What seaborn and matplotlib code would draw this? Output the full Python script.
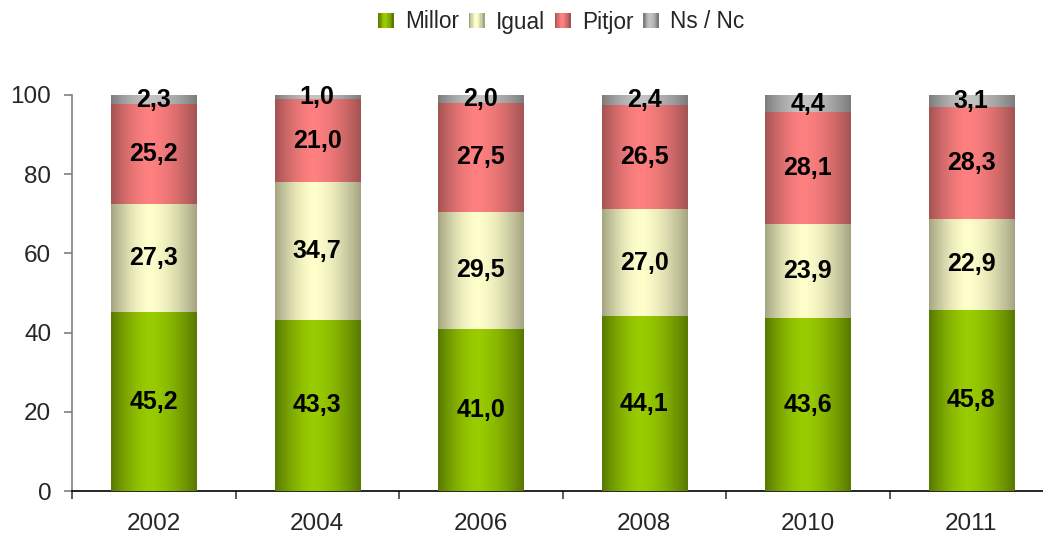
import numpy as np
import pandas as pd
import matplotlib
matplotlib.use("Agg")
import matplotlib.pyplot as plt
import seaborn as sns
from matplotlib.colors import to_rgb
from matplotlib.patches import Patch, Rectangle
from matplotlib.legend_handler import HandlerBase

years = ["2002", "2004", "2006", "2008", "2010", "2011"]
series_names = ["Millor", "Igual", "Pitjor", "Ns / Nc"]
millor = [45.2, 43.3, 41.0, 44.1, 43.6, 45.8]
igual = [27.3, 34.7, 29.5, 27.0, 23.9, 22.9]
pitjor = [25.2, 21.0, 27.5, 26.5, 28.1, 28.3]
nsnc = [2.3, 1.0, 2.0, 2.4, 4.4, 3.1]
yticks = [0, 20, 40, 60, 80, 100]

center_cols = ["#99cc00", "#ffffcc", "#ff8080", "#c4c4c4"]
edge_cols = ["#587800", "#a4a482", "#a35353", "#7c7c7c"]

sns.set_style("white")
plt.rcParams["font.family"] = ["Liberation Sans", "DejaVu Sans"]

values = [millor, igual, pitjor, nsnc]
cum = np.cumsum(np.array(values), axis=0)

fig = plt.figure(figsize=(10.43, 5.36), dpi=100)
ax = fig.add_axes([72 / 1043, 45 / 536, 981 / 1043, 396 / 536])

width = 0.52
layers = []
for i in reversed(range(4)):
    df = pd.DataFrame({"year": years, "val": cum[i]})
    n_before = len(ax.patches)
    sns.barplot(data=df, x="year", y="val", color=center_cols[i], width=width,
                ax=ax, zorder=2 + (3 - i), linewidth=0, saturation=1)
    layers.append((i, ax.patches[n_before:]))


def grad_colors(i, n=200, p=0.45):
    t = np.linspace(0, 1, n)
    d = np.where(t < p, p, 1 - p)
    f = 1 - np.abs((t - p) / d) ** 1.6
    f = np.clip(f, 0, 1)
    c = np.array(to_rgb(center_cols[i]))
    e = np.array(to_rgb(edge_cols[i]))
    return e[None, :] + (c - e)[None, :] * f[:, None]


for i, patches in layers:
    for p in patches:
        x0 = p.get_x()
        w = p.get_width()
        h = p.get_height()
        p.set_facecolor("none")
        im = ax.imshow(grad_colors(i)[None, :, :], extent=[x0, x0 + w, 0, h],
                       aspect="auto", zorder=p.get_zorder(),
                       interpolation="bilinear")
        im.set_clip_path(p)

# labels
for i in range(4):
    for j in range(6):
        bottom = cum[i][j] - values[i][j]
        ymid = bottom + values[i][j] / 2
        ax.text(j, ymid, f"{values[i][j]:.1f}".replace(".", ","), ha="center",
                va="center", fontsize=18, fontweight="bold", color="black",
                zorder=10)

ax.set_xlim(-0.5, 5.5)
ax.set_ylim(0, 100)
ax.set_yticks(yticks)
ax.set_yticklabels([str(v) for v in yticks])
ax.set_xlabel("")
ax.set_ylabel("")

for s in ["top", "right"]:
    ax.spines[s].set_visible(False)
ax.spines["left"].set_color("#808080")
ax.spines["left"].set_linewidth(1.2)
ax.spines["bottom"].set_color("black")
ax.spines["bottom"].set_linewidth(1.2)

ax.tick_params(axis="y", which="major", left=True, direction="out", length=6,
               width=1.2, color="#808080", labelsize=17.5, pad=9)
ax.tick_params(axis="x", which="major", bottom=False, labelsize=17.5, pad=12)
ax.set_xticks([k + 0.5 for k in range(-1, 6)], minor=True)
ax.tick_params(axis="x", which="minor", bottom=True, direction="out", length=6,
               width=1.2, color="#404040")


class GradHandler(HandlerBase):
    def __init__(self, idx):
        super().__init__()
        self.idx = idx

    def create_artists(self, legend, orig_handle, xdescent, ydescent, width,
                       height, fontsize, trans):
        n = 12
        cols = grad_colors(self.idx, n=n)
        arts = []
        for k in range(n):
            r = Rectangle((-xdescent + width * k / n, -ydescent), width / n + 0.3,
                          height, facecolor=cols[k], edgecolor="none",
                          transform=trans)
            arts.append(r)
        return arts


handles = [Patch(facecolor=center_cols[i], edgecolor="none") for i in range(4)]
fig.legend(handles, series_names, loc="center", bbox_to_anchor=(0.538, 1 - 22 / 536),
           ncol=4, frameon=False, fontsize=16.3, handlelength=0.68, handleheight=0.68,
           handletextpad=0.5, columnspacing=0.45,
           handler_map={handles[i]: GradHandler(i) for i in range(4)})

fig.savefig("out.png", dpi=100)
